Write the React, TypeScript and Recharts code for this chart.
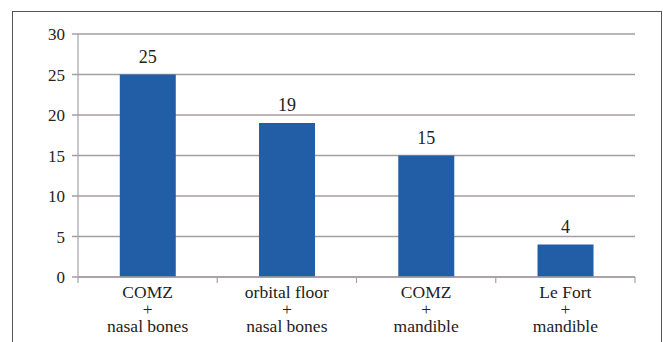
import React from "react";
import { BarChart, Bar, XAxis, YAxis, CartesianGrid, LabelList } from "recharts";

const categories = ["COMZ|+|nasal bones", "orbital floor|+|nasal bones", "COMZ|+|mandible", "Le Fort|+|mandible"];
const counts = [25, 19, 15, 4];
const yTicks = [0, 5, 10, 15, 20, 25, 30];

const data = categories.map((c, i) => ({ name: c, value: counts[i] }));

const W = 663;
const H = 342;
const MARGIN = { top: 34, right: 28, left: 0, bottom: 0 };
const Y_AXIS_W = 78;
const PLOT_W = W - MARGIN.left - MARGIN.right - Y_AXIS_W;
const BAND = PLOT_W / categories.length;

const FONT = '"Liberation Serif", "Times New Roman", serif';
const GRID = "#a89ca4";
const AXIS = "#a3a3ab";
const TEXT = "#222";

const CatTick = (props: any) => {
  const { x, y, payload, index } = props;
  const lines = String(payload.value).split("|");
  const offs = [21, 38, 55];
  const isLast = index === categories.length - 1;
  return (
    <g>
      <line x1={x - BAND / 2} x2={x - BAND / 2} y1={y} y2={y + 6} stroke={AXIS} strokeWidth={1.2} />
      {isLast && <line x1={x + BAND / 2} x2={x + BAND / 2} y1={y} y2={y + 6} stroke={AXIS} strokeWidth={1.2} />}
      {lines.map((l, i) => (
        <text key={i} x={x} y={y + offs[i]} textAnchor="middle" fontFamily={FONT} fontSize={17.5} fill={TEXT} style={{ fontFamily: FONT }}>
          {l}
        </text>
      ))}
    </g>
  );
};

const YTick = (props: any) => {
  const { x, y, payload } = props;
  return (
    <text x={x} y={y} dy={6} textAnchor="end" fontFamily={FONT} fontSize={17} fill={TEXT} style={{ fontFamily: FONT }}>
      {payload.value}
    </text>
  );
};

const ValueLabel = (props: any) => {
  const { x, y, width, value } = props;
  return (
    <text x={x + width / 2} y={y - 12} textAnchor="middle" fontFamily={FONT} fontSize={18} fill={TEXT} style={{ fontFamily: FONT }}>
      {value}
    </text>
  );
};

export default function App() {
  return (
    <div style={{ position: "absolute", left: 0, top: 0, width: W, height: H, background: "#fff", overflow: "hidden" }}>
      <div
        style={{
          position: "absolute",
          left: 12,
          top: 11,
          width: 648,
          height: 340,
          borderLeft: "1.5px solid #555",
          borderTop: "1.5px solid #555",
          borderRight: "1.5px solid #555",
        }}
      />
      <div style={{ position: "absolute", left: 0, top: 0 }}>
        <BarChart width={W} height={H} data={data} margin={MARGIN} barCategoryGap="30%">
          <CartesianGrid vertical={false} stroke={GRID} strokeWidth={1.5} />
          <XAxis
            dataKey="name"
            height={65}
            tick={<CatTick />}
            tickLine={false}
            tickSize={0}
            tickMargin={0}
            axisLine={{ stroke: GRID, strokeWidth: 1.5 }}
            interval={0}
          />
          <YAxis
            width={Y_AXIS_W}
            domain={[0, 30]}
            ticks={yTicks}
            interval={0}
            tickSize={6}
            tickMargin={7}
            axisLine={{ stroke: AXIS, strokeWidth: 1.2 }}
            tickLine={{ stroke: GRID, strokeWidth: 1.5 }}
            tick={<YTick />}
          />
          <Bar dataKey="value" fill="#215ea6" isAnimationActive={false}>
            <LabelList dataKey="value" content={<ValueLabel />} />
          </Bar>
        </BarChart>
      </div>
    </div>
  );
}
